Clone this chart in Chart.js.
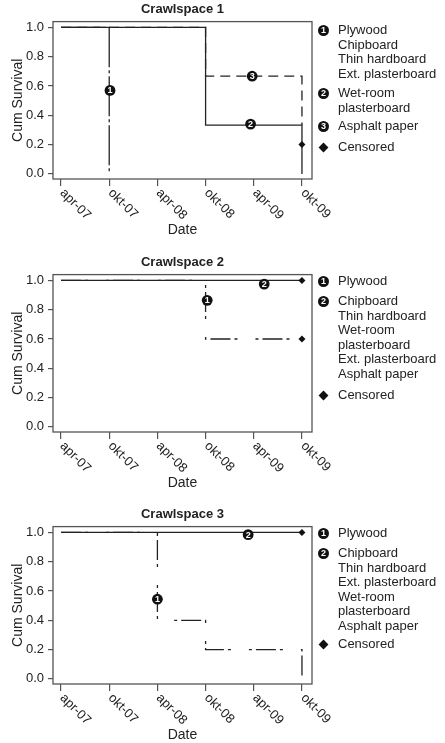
<!DOCTYPE html>
<html>
<head>
<meta charset="utf-8">
<script src="https://cdn.jsdelivr.net/npm/chart.js@4.4.1/dist/chart.umd.min.js"></script>
<style>
  body { margin: 0; width: 445px; height: 743px; overflow: hidden; background: #fff; position: relative;
         font-family: "Liberation Sans", Arial, sans-serif; color: #222; }
  canvas { position: absolute; left: 0; }
  .legend { position: absolute; left: 318px; width: 127px; font-size: 13px; line-height: 14.5px; }
  .item { position: absolute; left: 0; padding-left: 20px; white-space: nowrap; }
  .num { position: absolute; left: 0; top: 2px; width: 11px; height: 11px; border-radius: 50%; background: #111;
         color: #fff; font-size: 9px; font-weight: bold; line-height: 11px; text-align: center; }
  .cens { position: absolute; left: 2px; top: 4px; width: 7px; height: 7px; background: #111; transform: rotate(45deg); }
</style>
</head>
<body>
<canvas id="cs1" width="445" height="240" style="top:0px"></canvas>
<canvas id="cs2" width="445" height="240" style="top:253px"></canvas>
<canvas id="cs3" width="445" height="240" style="top:505px"></canvas>

<div class="legend" style="top:0">
  <div class="item" style="top:23px"><span class="num">1</span>Plywood<br>Chipboard<br>Thin hardboard<br>Ext. plasterboard</div>
  <div class="item" style="top:86px"><span class="num">2</span>Wet-room<br>plasterboard</div>
  <div class="item" style="top:119px"><span class="num">3</span>Asphalt paper</div>
  <div class="item" style="top:140px"><span class="cens"></span>Censored</div>
</div>
<div class="legend" style="top:0">
  <div class="item" style="top:274px"><span class="num">1</span>Plywood</div>
  <div class="item" style="top:294px"><span class="num">2</span>Chipboard<br>Thin hardboard<br>Wet-room<br>plasterboard<br>Ext. plasterboard<br>Asphalt paper</div>
  <div class="item" style="top:388px"><span class="cens"></span>Censored</div>
</div>
<div class="legend" style="top:0">
  <div class="item" style="top:526px"><span class="num">1</span>Plywood</div>
  <div class="item" style="top:546px"><span class="num">2</span>Chipboard<br>Thin hardboard<br>Ext. plasterboard<br>Wet-room<br>plasterboard<br>Asphalt paper</div>
  <div class="item" style="top:637px"><span class="cens"></span>Censored</div>
</div>

<script>
// months counted from apr-07
const monthTicks = [0, 6, 12, 18, 24, 30];
const monthLabels = ['apr-07', 'okt-07', 'apr-08', 'okt-08', 'apr-09', 'okt-09'];
const survTicks = [0, 0.2, 0.4, 0.6, 0.8, 1.0];

// Crawlspace 1
const cs1Grp1X = [0, 6];
const cs1Grp1Y = [1, 0];
const cs1Grp2X = [0, 18, 30];
const cs1Grp2Y = [1, 0.333, 0];
const cs1Grp3X = [0, 18, 30];
const cs1Grp3Y = [1, 0.667, 0.333];
const cs1CensX = [30];
const cs1CensY = [0.2];
const cs1TagN = [1, 2, 3];
const cs1TagX = [6.1, 23.6, 23.8];
const cs1TagY = [0.57, 0.34, 0.667];

// Crawlspace 2
const cs2Grp1X = [0, 18, 30];
const cs2Grp1Y = [1, 0.6, 0.6];
const cs2Grp2X = [0, 30];
const cs2Grp2Y = [1, 1];
const cs2CensX = [30, 30];
const cs2CensY = [1, 0.6];
const cs2TagN = [1, 2];
const cs2TagX = [18.2, 25.3];
const cs2TagY = [0.864, 0.975];

// Crawlspace 3
const cs3Grp1X = [0, 12, 18, 30];
const cs3Grp1Y = [1, 0.4, 0.2, 0];
const cs3Grp2X = [0, 30];
const cs3Grp2Y = [1, 1];
const cs3CensX = [30];
const cs3CensY = [1];
const cs3TagN = [1, 2];
const cs3TagX = [12, 23.3];
const cs3TagY = [0.544, 0.985];

const INK = '#222';
const SOLID = [];
const DASHED = [10, 6];
const DASHDOT = [20, 4, 3, 18, 3, 4];
const LONGDASHDOT = [40, 3, 3, 3];

Chart.defaults.font.family = '"Liberation Sans", Arial, sans-serif';
Chart.defaults.font.size = 13;
Chart.defaults.color = INK;

const toPoints = (xs, ys) => xs.map((x, i) => ({ x: x, y: ys[i] }));

const stepLine = (xs, ys, dash, dashOffset) => ({
  data: toPoints(xs, ys),
  stepped: 'before',
  borderColor: INK,
  borderWidth: 1.3,
  borderDash: dash,
  borderDashOffset: dashOffset || 0,
  pointRadius: 0,
  fill: false
});

const censored = (xs, ys) => ({
  data: toPoints(xs, ys),
  showLine: false,
  pointStyle: 'rectRot',
  pointRadius: 3.5,
  backgroundColor: '#111',
  borderWidth: 0
});

// box round the plot area and the slanted date labels
const framePlugin = {
  id: 'frame',
  afterDraw(chart) {
    const { ctx, chartArea: a, scales: { x } } = chart;
    ctx.save();
    ctx.strokeStyle = '#555';
    ctx.lineWidth = 1.3;
    ctx.strokeRect(a.left, a.top, a.right - a.left, a.bottom - a.top);
    ctx.fillStyle = INK;
    ctx.font = '13px "Liberation Sans", Arial, sans-serif';
    ctx.textAlign = 'left';
    ctx.textBaseline = 'middle';
    monthTicks.forEach((m, i) => {
      ctx.save();
      ctx.translate(x.getPixelForValue(m) + 1, a.bottom + 12);
      ctx.rotate(Math.PI / 4);
      ctx.fillText(monthLabels[i], 0, 0);
      ctx.restore();
    });
    ctx.restore();
  }
};

// black circled group numbers on the curves
const makeTags = (ns, xs, ys) => ({
  id: 'tags',
  afterDatasetsDraw(chart) {
    const { ctx, scales: { x, y } } = chart;
    ctx.save();
    ns.forEach((n, i) => {
      const px = x.getPixelForValue(xs[i]);
      const py = y.getPixelForValue(ys[i]);
      ctx.beginPath();
      ctx.arc(px, py, 5.4, 0, Math.PI * 2);
      ctx.fillStyle = '#111';
      ctx.fill();
      ctx.fillStyle = '#fff';
      ctx.font = 'bold 9px "Liberation Sans", Arial, sans-serif';
      ctx.textAlign = 'center';
      ctx.textBaseline = 'middle';
      ctx.fillText(String(n), px, py + 0.5);
    });
    ctx.restore();
  }
});

function survivalChart(id, title, datasets, tags) {
  return new Chart(document.getElementById(id), {
    type: 'line',
    data: { datasets: datasets },
    plugins: [framePlugin, tags],
    options: {
      responsive: false,
      animation: false,
      layout: { padding: { left: 0, right: 133, top: 0, bottom: 0 } },
      plugins: {
        legend: { display: false },
        tooltip: { enabled: false },
        title: {
          display: true,
          text: title,
          fullSize: false,
          color: INK,
          font: { size: 13, weight: 'bold' },
          padding: { top: 2, bottom: 4 }
        }
      },
      scales: {
        x: {
          type: 'linear',
          min: -1,
          max: 31.25,
          afterBuildTicks: s => { s.ticks = monthTicks.map(v => ({ value: v })); },
          afterFit: s => { s.height = 61; },
          ticks: { color: 'rgba(0,0,0,0)', maxRotation: 0, autoSkip: false },
          grid: { drawOnChartArea: false, tickLength: 7, color: '#555', lineWidth: 1.2 },
          border: { display: false },
          title: { display: true, text: 'Date', color: INK, font: { size: 14 }, padding: { top: 0, bottom: 1 } }
        },
        y: {
          min: -0.035,
          max: 1.04,
          afterBuildTicks: s => { s.ticks = survTicks.map(v => ({ value: v })); },
          afterFit: s => { s.width = 53; },
          ticks: { callback: v => v.toFixed(1), padding: 4, color: INK },
          grid: { drawOnChartArea: false, tickLength: 5, color: '#555', lineWidth: 1.2 },
          border: { display: false },
          title: { display: true, text: 'Cum Survival', color: INK, font: { size: 14 }, padding: { top: 10, bottom: 0 } }
        }
      }
    }
  });
}

// the first dataset is painted last, so solid lines go first
survivalChart('cs1', 'Crawlspace 1', [
  censored(cs1CensX, cs1CensY),
  stepLine(cs1Grp2X, cs1Grp2Y, SOLID),
  stepLine(cs1Grp3X, cs1Grp3Y, DASHED),
  stepLine(cs1Grp1X, cs1Grp1Y, LONGDASHDOT, 1)
], makeTags(cs1TagN, cs1TagX, cs1TagY));

survivalChart('cs2', 'Crawlspace 2', [
  censored(cs2CensX, cs2CensY),
  stepLine(cs2Grp2X, cs2Grp2Y, SOLID),
  stepLine(cs2Grp1X, cs2Grp1Y, DASHDOT)
], makeTags(cs2TagN, cs2TagX, cs2TagY));

survivalChart('cs3', 'Crawlspace 3', [
  censored(cs3CensX, cs3CensY),
  stepLine(cs3Grp2X, cs3Grp2Y, SOLID),
  stepLine(cs3Grp1X, cs3Grp1Y, DASHDOT)
], makeTags(cs3TagN, cs3TagX, cs3TagY));
</script>
</body>
</html>
